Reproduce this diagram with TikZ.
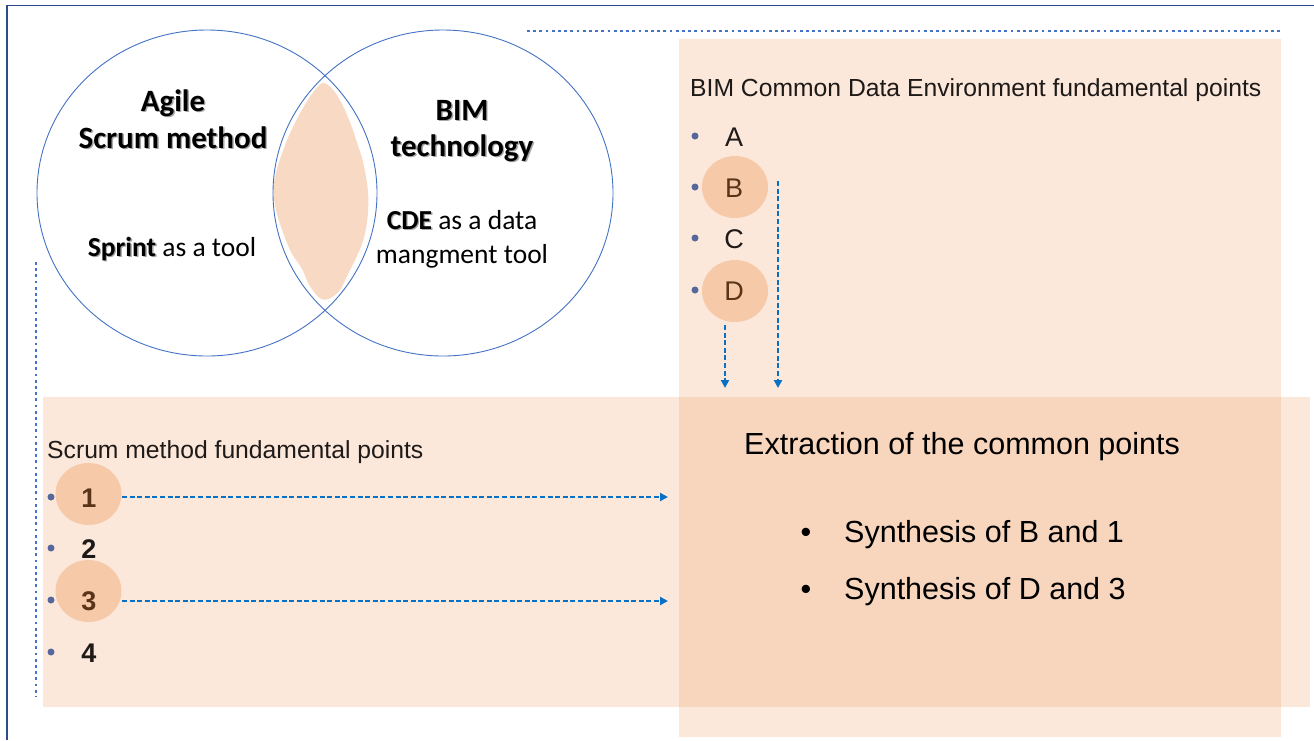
\documentclass[tikz,border=0pt]{standalone}
\usepackage{fontspec}
\setmainfont{Liberation Sans}
\newfontfamily\calib{Carlito}
\usetikzlibrary{arrows.meta,shapes.geometric}

\definecolor{frameblue}{HTML}{2F4A8C}
\definecolor{vennblue}{HTML}{4472C4}
\definecolor{arrowblue}{HTML}{0A70C4}
\definecolor{peachlight}{HTML}{FCE7DB}
\definecolor{peachdark}{HTML}{F8D6BE}
\definecolor{peachdisc}{HTML}{F6C9A9}
\definecolor{lensfill}{HTML}{F8D9C4}
\definecolor{bulletgray}{HTML}{56679C}
\definecolor{inkdark}{HTML}{1E1A18}
\definecolor{inkbrown}{HTML}{5A3418}

% bold Calibri-style lettering with a soft grey drop shadow
\newcommand\dropshadowed[1]{\makebox[0pt][l]{\hspace{1.4pt}\raisebox{-1.4pt}{\textcolor{black!35}{#1}}}#1}

\begin{document}
\begin{tikzpicture}[x=1pt,y=-1pt,
  vennring/.style={ellipse, draw=vennblue, line width=0.9pt, inner sep=0pt,
    minimum width=340pt, minimum height=326pt},
  calhead/.style={inner sep=0pt, anchor=base, text=black,
    font=\calib\bfseries\fontsize{31}{36}\selectfont},
  calbody/.style={inner sep=0pt, anchor=base, text=black,
    font=\calib\fontsize{27.5}{32}\selectfont},
  listhead/.style={inner sep=0pt, anchor=base west, text=inkdark,
    font=\fontsize{24.7}{30}\selectfont},
  letteritem/.style={inner sep=0pt, anchor=base, text=inkdark,
    font=\fontsize{27}{32}\selectfont},
  numitem/.style={inner sep=0pt, anchor=base, text=inkdark,
    font=\bfseries\fontsize{27}{32}\selectfont},
  disc/.style={ellipse, fill=peachdisc, inner sep=0pt,
    minimum width=66pt, minimum height=62pt},
  dot/.style={circle, fill=bulletgray, inner sep=0pt, minimum size=7pt},
  bigtext/.style={inner sep=0pt, anchor=base west, text=black,
    font=\fontsize{30.5}{36}\selectfont},
  bigbullet/.style={inner sep=0pt, anchor=base, text=black,
    font=\fontsize{30.5}{36}\selectfont},
  dotline/.style={vennblue, line width=2.8pt, dash pattern=on 2.8pt off 3.4pt},
  dasharrow/.style={arrowblue, line width=2.1pt, dash pattern=on 5pt off 2.6pt,
    -{Triangle[length=8pt,width=8pt]}}
]
\useasboundingbox (0,0) rectangle (1314,740);
\fill[white] (0,0) rectangle (1314,740);

% outer frame (top and left edges)
\draw[frameblue, line width=1.4pt] (7,740) -- (7,5.5) -- (1314,5.5);

% peach panels and their overlap
\fill[peachlight] (679,39) rectangle (1281,737);
\fill[peachlight] (43,397) rectangle (1310,707);
\fill[peachdark] (679,397) rectangle (1281,707);

% dotted guide lines
\draw[dotline] (527,31) -- (1282,31);
\draw[dotline] (36,262) -- (36,697);

% shared area of the two sets, hand-painted look
\fill[lensfill] plot[smooth cycle, tension=0.55] coordinates {
  (321.7,83.3) (331.7,88.3) (341.7,103.3) (351.7,126.7) (358.3,146.7)
  (361.7,156.7) (366,176.7) (368.3,196.7) (367.3,220) (363.3,240)
  (356.7,256.7) (348.3,273.3) (340,290) (330,298.3) (321.7,299.3)
  (315,293.3) (308.3,283.3) (301.7,268.3) (291.7,253.3) (283.3,233.3)
  (276,210) (273.3,190) (276.7,170) (283.3,150) (290,133.3) (300,113.3)
  (310,96.7)};

% Venn rings
\node[vennring] (agile) at (207,193) {};
\node[vennring] (bim) at (443,193) {};

% left set labels
\node[calhead] (agileT) at (173,111) {\dropshadowed{Agile}};
\node[calhead] (scrumT) at (173,148) {\dropshadowed{Scrum method}};
\node[calbody] (sprintT) at (172,256) {\textbf{\dropshadowed{Sprint}} as a tool};

% right set labels
\node[calhead] (bimT) at (462,120) {\dropshadowed{BIM}};
\node[calhead] (techT) at (462,156) {\dropshadowed{technology}};
\node[calbody] (cdeT) at (462,229) {\textbf{\dropshadowed{CDE}} as a data};
\node[calbody] (mgmtT) at (462,263) {mangment tool};

% BIM CDE list
\node[listhead] (cdeHead) at (690,96) {BIM Common Data Environment fundamental points};
\node[disc] (discB) at (735,187) {};
\node[disc] (discD) at (735,291) {};
\node[dot] (bA) at (695,136) {};
\node[dot] (bB) at (695,187) {};
\node[dot] (bC) at (695,238) {};
\node[dot] (bD) at (695,290) {};
\node[letteritem] (itA) at (734,146) {A};
\node[letteritem, text=inkbrown] (itB) at (734,197) {B};
\node[letteritem] (itC) at (734,248) {C};
\node[letteritem, text=inkbrown] (itD) at (734,300) {D};

% Scrum list
\node[listhead] (scrumHead) at (47,458) {Scrum method fundamental points};
\node[disc] (disc1) at (88.5,494) {};
\node[disc] (disc3) at (88.5,591) {};
\node[dot] (b1) at (51,497) {};
\node[dot] (b2) at (51,548) {};
\node[dot] (b3) at (51,600) {};
\node[dot] (b4) at (51,652) {};
\node[numitem, text=inkbrown] (n1) at (89,507) {1};
\node[numitem] (n2) at (89,558) {2};
\node[numitem, text=inkbrown] (n3) at (89,610) {3};
\node[numitem] (n4) at (89,662) {4};

% synthesis panel
\node[bigtext] (extract) at (744,454) {Extraction of the common points};
\node[bigbullet] (sb1) at (806,542) {•};
\node[bigtext] (syn1) at (844,542) {Synthesis of B and 1};
\node[bigbullet] (sb2) at (806,599) {•};
\node[bigtext] (syn2) at (844,599) {Synthesis of D and 3};

% connector end points
\coordinate (from1) at (122,497);
\coordinate (to1) at (668,497);
\coordinate (from3) at (122,601);
\coordinate (to3) at (668,601);
\coordinate (fromD) at (725,325);
\coordinate (toD) at (725,388);
\coordinate (fromB) at (778,181);
\coordinate (toB) at (778,388);

% dashed connectors
\draw[dasharrow] (from1) -- (to1);
\draw[dasharrow] (from3) -- (to3);
\draw[dasharrow] (fromD) -- (toD);
\draw[dasharrow] (fromB) -- (toB);
\end{tikzpicture}
\end{document}
